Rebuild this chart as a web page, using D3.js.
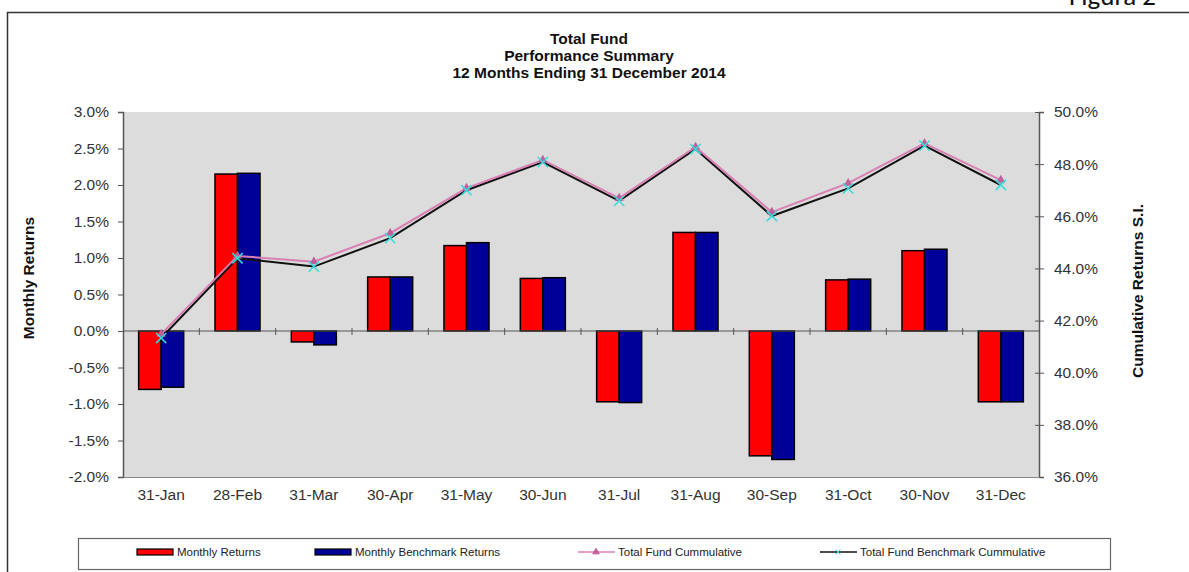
<!DOCTYPE html>
<html>
<head>
<meta charset="utf-8">
<script src="https://cdn.jsdelivr.net/npm/d3@7"></script>
<style>
  body { margin: 0; background: #fff; }
  svg { display: block; font-family: "Liberation Sans", Arial, sans-serif; }
</style>
</head>
<body>
<div id="chart"></div>
<script>

  // Data
  var months = ['31-Jan', '28-Feb', '31-Mar', '30-Apr', '31-May', '30-Jun',
                '31-Jul', '31-Aug', '30-Sep', '31-Oct', '30-Nov', '31-Dec'];
  var monthlyReturns = [-0.80, 2.15, -0.15, 0.74, 1.17, 0.72, -0.97, 1.35, -1.71, 0.70, 1.10, -0.97];
  var benchmarkReturns = [-0.77, 2.16, -0.19, 0.74, 1.21, 0.73, -0.98, 1.35, -1.76, 0.71, 1.12, -0.97];
  var fundCumulative = [41.48, 44.48, 44.26, 45.35, 47.08, 48.16, 46.70, 48.66, 46.16, 47.27, 48.80, 47.39];
  var benchCumulative = [41.33, 44.39, 44.07, 45.16, 47.00, 48.08, 46.59, 48.58, 46.01, 47.07, 48.71, 47.20];
  var leftTicks = [3.0, 2.5, 2.0, 1.5, 1.0, 0.5, 0.0, -0.5, -1.0, -1.5, -2.0];
  var rightTicks = [50, 48, 46, 44, 42, 40, 38, 36];
  var titleLines = ['Total Fund', 'Performance  Summary', '12 Months Ending 31 December 2014'];

  var W = 1189, H = 572;
  var plot = { left: 123, right: 1039, top: 112, bottom: 477 };

  var svg = d3.select('#chart').append('svg')
      .attr('width', W)
      .attr('height', H);

  // outer frame and figure caption
  svg.append('path')
      .attr('d', 'M7.5,' + H + 'V12.5H' + W)
      .attr('fill', 'none')
      .attr('stroke', '#333')
      .attr('stroke-width', 1.5);

  svg.append('text')
      .attr('x', 1156).attr('y', 5)
      .attr('text-anchor', 'end')
      .style('font-family', 'Carlito, "Open Sans", sans-serif')
      .style('font-size', '27px')
      .attr('fill', '#111')
      .text('Figura 2');

  // title
  svg.selectAll('text.title')
      .data(titleLines)
    .enter().append('text')
      .attr('class', 'title')
      .attr('x', 589)
      .attr('y', function(d, i) { return 44 + i * 17; })
      .attr('text-anchor', 'middle')
      .style('font-size', '15.5px')
      .style('font-weight', 'bold')
      .attr('fill', '#111')
      .text(function(d) { return d; });

  // scales
  var x = d3.scaleBand()
      .domain(months)
      .range([plot.left, plot.right])
      .paddingInner(0.41)
      .paddingOuter(0.205);

  var xLine = d3.scalePoint()
      .domain(months)
      .range([plot.left, plot.right])
      .padding(0.5);

  var yLeft = d3.scaleLinear().domain([-2, 3]).range([plot.bottom, plot.top]);
  var yRight = d3.scaleLinear().domain([36, 50]).range([plot.bottom, plot.top]);

  // plot background
  svg.append('rect')
      .attr('x', plot.left).attr('y', plot.top)
      .attr('width', plot.right - plot.left)
      .attr('height', plot.bottom - plot.top)
      .attr('fill', '#dcdcdc');

  // bars
  var barW = x.bandwidth() / 2;
  var series = [
      { values: monthlyReturns, color: '#ff0000', off: 0 }
    , { values: benchmarkReturns, color: '#000099', off: 1 }
  ];

  series.forEach(function(s) {
    svg.append('g').selectAll('rect')
        .data(s.values)
      .enter().append('rect')
        .attr('x', function(d, i) { return x(months[i]) + s.off * barW; })
        .attr('y', function(d) { return yLeft(Math.max(0, d)); })
        .attr('width', barW)
        .attr('height', function(d) { return Math.abs(yLeft(d) - yLeft(0)); })
        .attr('fill', s.color)
        .attr('stroke', '#000')
        .attr('stroke-width', 1.5);
  });

  // axes
  var fmt = function(d) { return d.toFixed(1) + '%'; };

  var gLeft = svg.append('g')
      .attr('transform', 'translate(' + plot.left + ',0)')
      .call(d3.axisLeft(yLeft).tickValues(leftTicks).tickFormat(fmt).tickSize(5).tickPadding(9));

  var gRight = svg.append('g')
      .attr('transform', 'translate(' + plot.right + ',0)')
      .call(d3.axisRight(yRight).tickValues(rightTicks).tickFormat(fmt).tickSizeInner(5).tickSizeOuter(5).tickPadding(10));
  gRight.selectAll('.tick line').attr('x1', -4);

  var gBottom = svg.append('g')
      .attr('transform', 'translate(0,' + plot.bottom + ')')
      .call(d3.axisBottom(x).tickSize(0).tickPadding(12));

  [gLeft, gRight, gBottom].forEach(function(g) {
    g.select('.domain').attr('stroke', '#555').attr('stroke-width', 1.5);
    g.selectAll('.tick line').attr('stroke', '#555');
    g.selectAll('.tick text')
        .style('font-size', '15.5px')
        .style('font-family', '"Liberation Sans", Arial, sans-serif')
        .attr('fill', '#333');
  });
  gBottom.select('.domain').attr('stroke', '#888').attr('stroke-width', 1);

  // zero line with category separators
  svg.append('line')
      .attr('x1', plot.left).attr('x2', plot.right)
      .attr('y1', yLeft(0)).attr('y2', yLeft(0))
      .attr('stroke', '#555').attr('stroke-width', 1.2);

  svg.append('g').selectAll('line')
      .data(months.slice(1))
    .enter().append('line')
      .attr('x1', function(d) { return xLine(d) - xLine.step() / 2; })
      .attr('x2', function(d) { return xLine(d) - xLine.step() / 2; })
      .attr('y1', yLeft(0) - 3).attr('y2', yLeft(0) + 4)
      .attr('stroke', '#555');

  // cumulative lines
  var line = d3.line()
      .x(function(d, i) { return xLine(months[i]); })
      .y(function(d) { return yRight(d); });

  svg.append('path')
      .datum(benchCumulative)
      .attr('d', line)
      .attr('fill', 'none')
      .attr('stroke', '#111')
      .attr('stroke-width', 2);

  svg.append('path')
      .datum(fundCumulative)
      .attr('d', line)
      .attr('fill', 'none')
      .attr('stroke', '#d97fb4')
      .attr('stroke-width', 2);

  var tri = d3.symbol().type(d3.symbolTriangle).size(36);
  svg.append('g').selectAll('path')
      .data(fundCumulative)
    .enter().append('path')
      .attr('transform', function(d, i) { return 'translate(' + xLine(months[i]) + ',' + yRight(d) + ')'; })
      .attr('d', tri)
      .attr('fill', '#c0609a');

  var cross = d3.symbol().type(d3.symbolX).size(70);
  svg.append('g').selectAll('path')
      .data(benchCumulative)
    .enter().append('path')
      .attr('transform', function(d, i) { return 'translate(' + xLine(months[i]) + ',' + yRight(d) + ')'; })
      .attr('d', cross)
      .attr('fill', '#33dddd')
      .attr('stroke', '#33dddd')
      .attr('stroke-width', 1.5);

  // axis titles
  svg.append('text')
      .attr('transform', 'translate(34,278) rotate(-90)')
      .attr('text-anchor', 'middle')
      .style('font-size', '15.5px')
      .style('font-weight', 'bold')
      .attr('fill', '#111')
      .text('Monthly Returns');

  svg.append('text')
      .attr('transform', 'translate(1143,291) rotate(-90)')
      .attr('text-anchor', 'middle')
      .style('font-size', '15.5px')
      .style('font-weight', 'bold')
      .attr('fill', '#111')
      .text('Cumulative Returns S.I.');

  // legend
  var legend = svg.append('g');
  legend.append('rect')
      .attr('x', 78.5).attr('y', 538.5)
      .attr('width', 1032).attr('height', 31)
      .attr('fill', '#fff')
      .attr('stroke', '#666')
      .attr('stroke-width', 1.2);

  var legendItems = [
      { label: 'Monthly Returns', x: 137, kind: 'bar', color: '#ff0000' }
    , { label: 'Monthly Benchmark Returns', x: 315, kind: 'bar', color: '#000099' }
    , { label: 'Total Fund Cummulative', x: 578, kind: 'line', color: '#d97fb4', mark: 'tri' }
    , { label: 'Total Fund Benchmark Cummulative', x: 820, kind: 'line', color: '#111', mark: 'x' }
  ];

  legendItems.forEach(function(d) {
    var ly = 552;
    if (d.kind === 'bar') {
      legend.append('rect')
          .attr('x', d.x).attr('y', ly - 3)
          .attr('width', 36).attr('height', 6)
          .attr('fill', d.color)
          .attr('stroke', '#000')
          .attr('stroke-width', 1.2);
    } else {
      legend.append('line')
          .attr('x1', d.x).attr('x2', d.x + 37)
          .attr('y1', ly).attr('y2', ly)
          .attr('stroke', d.color).attr('stroke-width', 1.5);
      var markColor = d.mark === 'x' ? '#33dddd' : '#c0609a';
      legend.append('path')
          .attr('transform', 'translate(' + (d.x + 18) + ',' + ly + ')')
          .attr('d', d3.symbol().type(d.mark === 'x' ? d3.symbolX : d3.symbolTriangle).size(18))
          .attr('fill', markColor).attr('stroke', markColor);
    }
    legend.append('text')
        .attr('x', d.x + 40).attr('y', ly + 4)
        .style('font-family', '"Liberation Sans Narrow", "Liberation Sans", Arial, sans-serif')
        .style('font-size', '11.5px')
        .attr('fill', '#222')
        .text(d.label);
  });

</script>
</body>
</html>
